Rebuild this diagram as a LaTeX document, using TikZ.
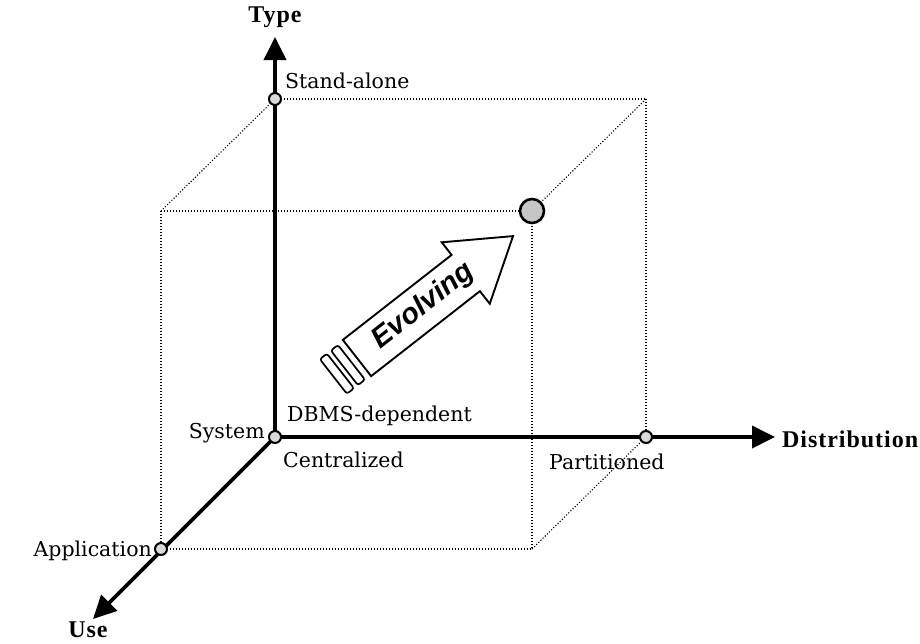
\documentclass[tikz,border=0pt]{standalone}
\usepackage{fontspec}
\setmainfont{DejaVu Serif}
\newfontfamily\axisfont[LetterSpace=4]{Liberation Serif}
\newfontfamily\evfont{Liberation Sans}
\usetikzlibrary{arrows.meta}
\begin{document}
\begin{tikzpicture}[x=1pt,y=-1pt,
 axis/.style={line width=3.8pt,-{Triangle[length=23pt,width=22pt]}},
 edge/.style={line width=1.1pt,dash pattern=on 1.1pt off 1.9pt},
 tick/.style={circle,draw,line width=2pt,fill=gray!30,minimum size=12pt,inner sep=0pt},
 bigdot/.style={circle,draw,line width=2.6pt,fill=gray!45,minimum size=24pt,inner sep=0pt},
 lab/.style={font=\fontsize{20.5}{24}\selectfont,inner sep=0pt},
 axlab/.style={font=\axisfont\bfseries\fontsize{24}{28}\selectfont,inner sep=0pt},
 evshape/.style={draw,line width=1.9pt,line join=miter},
 evbar/.style={draw,line width=1.7pt,rounded corners=2.5pt}]
\useasboundingbox (0,0) rectangle (920,643);
% corner coordinates
\coordinate (O) at (275,437);
\coordinate (SA) at (275,99);
\coordinate (P) at (646,437);
\coordinate (A) at (161,549);
\coordinate (BTR) at (646,99);
\coordinate (FTL) at (161,211);
\coordinate (BD) at (532,211);
\coordinate (FBR) at (532,549);
\coordinate (Ttip) at (275,37);
\coordinate (Dtip) at (775,437);
\coordinate (Utip) at (93,619);
% dotted cube
\draw[edge] (SA) -- (BTR);
\draw[edge] (SA) -- (FTL);
\draw[edge] (FTL) -- (BD);
\draw[edge] (BTR) -- (BD);
\draw[edge] (BTR) -- (P);
\draw[edge] (BD) -- (FBR);
\draw[edge] (FTL) -- (A);
\draw[edge] (A) -- (FBR);
\draw[edge] (FBR) -- (P);
% axes
\draw[axis] (O) -- (Ttip);
\draw[axis] (O) -- (Dtip);
\draw[axis] (O) -- (Utip);
% points
\node[tick] (nSA) at (SA) {};
\node[tick] (nO) at (O) {};
\node[tick] (nP) at (P) {};
\node[tick] (nA) at (A) {};
\node[bigdot] (nBD) at (BD) {};
% axis labels
\node[axlab] (tl) at (275,17) {Type};
\node[axlab,anchor=west] (dl) at (782,439) {Distribution};
\node[axlab] (ul) at (88,630) {Use};
% value labels
\node[lab,anchor=base west] (sal) at (285,88) {Stand-alone};
\node[lab,anchor=base west] (dbl) at (287,421) {DBMS-dependent};
\node[lab,anchor=base east] (syl) at (265,438) {System};
\node[lab,anchor=base west] (cel) at (283,467) {Centralized};
\node[lab,anchor=base west] (pal) at (549,469) {Partitioned};
\node[lab,anchor=base east] (apl) at (152,556) {Application};
% evolving arrow
\begin{scope}[shift={(357,358)},rotate=38]
\draw[evshape] (0,-23) -- (138,-23) -- (138,-39) -- (198,0) -- (138,39) -- (138,23) -- (0,23) -- cycle;
\draw[evbar] (-16,-22) rectangle (-7,22);
\draw[evbar] (-30,-22) rectangle (-21,22);
\node[transform shape,font=\evfont\bfseries\itshape\fontsize{29}{32}\selectfont,inner sep=0pt] (ev) at (84,0) {Evolving};
\end{scope}
\end{tikzpicture}
\end{document}
